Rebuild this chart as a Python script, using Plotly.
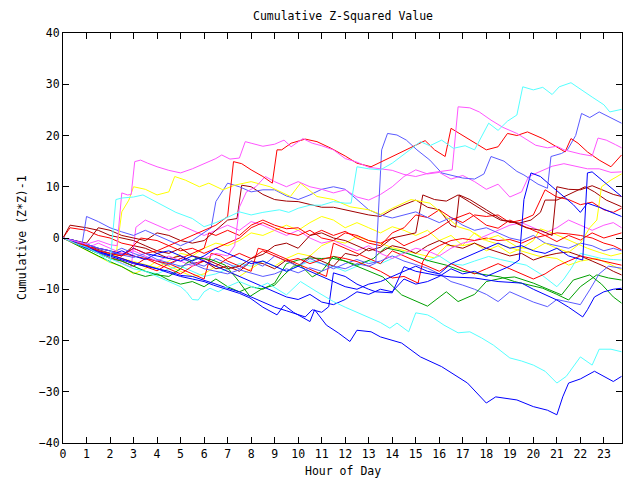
import plotly.graph_objects as go

# ---- data: (hour, cumulative (Z*Z)-1) ----
hour_ticks = list(range(24))

cyan_top = [(0,0),(0.5,-1),(1,-1.8),(1.5,-3),(2,-4.8),(2.25,7.5),(2.5,7.8),(3,8),(3.4,8.4),(4,7),(4.5,5.8),(4.8,5),(5.5,3.8),(6,2.2),(6.5,3),(7,4),(7.5,5.1),(8,4.5),(8.5,5),(9.2,5.5),(9.6,5),(10,5.8),(10.5,6.4),(11,6.4),(11.5,7.1),(12,6.8),(12.25,6.8),(12.5,13.9),(13,13.5),(13.5,13.3),(14,14.6),(14.75,17.2),(15.2,18.8),(15.6,18),(16.1,19.1),(16.6,17.5),(17.1,18),(17.5,17.2),(18.1,22.4),(18.5,21),(18.9,22.8),(19.3,24),(19.55,29.5),(20,28.9),(20.4,29.4),(20.8,28),(21.1,29.5),(21.6,30.3),(22,29),(22.5,27.5),(23,26),(23.25,24.6),(23.75,25.1)]
magenta_top = [(0,0),(0.5,-0.6),(1,-1.2),(1.5,-0.5),(2,-1.3),(2.3,-1.5),(2.5,8.8),(2.75,8.4),(2.9,8.5),(3.05,14.9),(3.3,15.2),(3.6,14.6),(4,13.9),(4.5,13.2),(5,12.7),(5.5,13.5),(6,14.5),(6.5,15.5),(6.75,16.2),(7.1,15.4),(7.5,15.6),(7.75,18.8),(8,18.5),(8.5,17.9),(9,18.3),(9.4,19.1),(9.7,17.8),(10.2,19.4),(10.6,18.5),(11,18),(11.5,17.2),(12,15.5),(12.5,14.8),(13,13.8),(13.5,13.5),(14,13.2),(14.5,12.4),(15,12),(15.6,12.7),(16.2,13),(16.55,13.3),(16.8,25.6),(17.3,25.4),(17.7,24.6),(18.2,23),(18.7,21.6),(19.3,20.4),(20.1,18.1),(20.6,17.6),(21.0,17.9),(21.3,17.2),(22,16.4),(22.5,16),(22.75,19.5),(23.1,19.1),(23.5,18.2),(23.75,17.6)]
red_top = [(0,0),(0.5,-1),(1,-1.5),(1.5,-2.5),(2,-3),(2.5,-3.5),(3,-2),(3.5,-3),(4,-2.5),(4.5,-1.5),(5,-0.5),(5.5,0.5),(6,1.5),(6.5,2.5),(7,4.2),(7.25,14.9),(7.6,14.5),(8,13.3),(8.5,12),(8.9,10.7),(9.1,17.2),(9.3,17.2),(9.7,18.5),(10.3,19.3),(10.8,18.8),(11.4,17.5),(12,16),(12.5,14.6),(13.1,13.9),(13.6,15),(14,15.9),(14.6,17.2),(15,18),(15.4,19),(15.8,17.2),(16.25,15.9),(16.5,21.4),(17,20),(17.5,18.5),(18,17.2),(18.5,17.8),(18.9,20.4),(19.3,20),(19.75,20.7),(20.4,19.4),(20.7,18.6),(21.1,17.5),(21.35,16.8),(21.6,19.4),(21.9,18.5),(22.3,16.8),(22.8,15.2),(23.3,13.9),(23.75,16.2)]
lblue_top = [(0,0),(0.5,-0.5),(1,-1.2),(1.5,-2),(2,-2.5),(2.5,-3.3),(3,-3.8),(3.5,-3),(4,-4.2),(4.5,-4.8),(5,-5.5),(5.5,-5),(6,-6),(6.5,-6.5),(7,-7),(7.5,-6.2),(8,-6.8),(8.5,-7.5),(9,-7),(9.5,-6),(10,-6.8),(10.5,-5.8),(11,-6.5),(11.5,-5.5),(12,-6),(12.5,-5),(13,-5.5),(13.3,-4.9),(13.55,17.2),(13.8,20.4),(14.2,20.1),(14.6,19.1),(15.05,17.2),(15.6,15.2),(16.1,12.7),(16.6,12.2),(17,11.7),(17.5,11.5),(17.9,12.5),(18.2,15.9),(18.75,15),(19.3,13),(19.6,12.3),(20.2,10.5),(20.6,9.7),(20.75,15.9),(21.2,16.5),(21.45,17.2),(21.8,20),(22.05,24.3),(22.4,23.5),(22.8,24.6),(23.3,23.4),(23.75,22.4)]
cyan_low = [(0,0),(0.5,-1),(1,-2),(1.5,-3),(2,-4),(2.5,-5),(3,-6),(3.5,-6.5),(4,-7.5),(4.5,-8.5),(5,-9.5),(5.25,-10.5),(5.5,-12),(5.75,-12.1),(6,-10.5),(6.25,-9.8),(6.6,-10.5),(7,-9.5),(7.5,-8.5),(8.2,-9.8),(8.7,-8.8),(9.5,-11.1),(10.1,-8.5),(10.8,-10.5),(11.5,-12.4),(12,-13.5),(12.5,-14.5),(13,-15.4),(13.5,-16.5),(13.9,-17.6),(14.2,-16.6),(14.7,-18.3),(15.0,-14.6),(15.5,-15),(15.75,-15.6),(16.2,-17),(16.8,-18.5),(17.3,-18.3),(17.8,-19.5),(18.3,-20.9),(19.0,-23.4),(19.5,-24),(20,-24.8),(20.5,-26),(21.0,-28.3),(21.4,-27),(22.0,-23.2),(22.5,-24.8),(22.8,-21.7),(23.3,-21.7),(23.75,-22.2)]
blue_low = [(0,0),(0.5,-1),(1,-2),(1.5,-2.8),(2,-3.5),(2.5,-4.2),(3,-5),(3.5,-5.5),(4,-6),(4.5,-6.8),(5,-7.5),(5.5,-8),(6,-8.5),(6.4,-9.2),(7,-10),(7.5,-10.8),(7.95,-11.7),(8.5,-13.5),(9.1,-15),(9.4,-13.1),(9.8,-14.5),(10.5,-16.3),(10.7,-14),(11.2,-17),(11.7,-18.5),(12.2,-20.2),(12.5,-18),(13.1,-18.3),(13.5,-19.3),(14.4,-20.5),(15.2,-23.2),(16.1,-25.1),(17.2,-28.3),(18.0,-32.2),(18.4,-31),(19.3,-31.6),(20.0,-32.9),(20.6,-33.6),(21.0,-34.5),(21.25,-31),(21.5,-28.3),(22.0,-27.5),(22.6,-26),(23.0,-27),(23.4,-28),(23.75,-27)]
blue_b2 = [(0,0),(0.5,-0.8),(1,-1.8),(1.5,-2.6),(2,-3.3),(2.5,-4),(3,-4.8),(3.5,-5.3),(4,-6),(4.5,-6.5),(5,-7.3),(5.5,-7.5),(6,-8.2),(6.5,-9),(7,-9.8),(7.5,-10.5),(8,-11.5),(8.5,-12.5),(9,-13.5),(9.5,-14.2),(10,-15),(10.3,-15.4),(10.6,-14),(11,-14.5),(11.3,-13.4),(11.5,-6.8),(12,-7.5),(12.5,-9),(13,-10),(13.3,-10.5),(14,-10.7),(14.5,-5.6),(15,-6.5),(15.8,-7.2),(16.5,-7.6),(17.5,-7.8),(18.5,-8.5),(19.5,-8.8),(20,-10),(21,-12.1),(21.5,-13.5),(22.1,-15.4),(22.3,-14),(22.6,-11.5),(23,-10.5),(23.4,-10),(23.75,-9.8)]
blue_b3 = [(0,0),(0.5,-0.5),(1,-1.2),(1.5,-2),(2,-2.5),(2.5,-3.3),(3,-2),(3.5,-3),(4,-3.5),(4.5,-4),(5,-4.5),(5.5,-3.5),(6,-4.5),(6.5,-5.5),(7,-6.5),(7.5,-7.5),(8,-8.5),(8.5,-9.5),(9,-10.5),(9.5,-11.5),(10,-12),(10.5,-11),(11,-12.5),(11.5,-13),(12,-12),(12.5,-10.5),(13,-11),(13.5,-10),(14,-10.5),(14.5,-8),(15,-9),(15.5,-8.5),(16,-7.5),(16.5,-6),(17,-7),(17.5,-6.5),(18,-7.5),(18.5,-6.5),(19,-5.5),(19.4,-4.3),(19.6,7.5),(19.9,12.7),(20.3,12),(20.8,10),(21.3,8),(21.7,6.5),(22.0,5),(22.3,6.8),(22.8,6),(23.3,5),(23.75,4.2)]
blue_b4 = [(0,0),(0.5,-1),(1,-1.8),(1.5,-2.6),(2,-3.4),(2.5,-2.5),(3,-3.5),(3.5,-4.2),(4,-3),(4.5,-2.5),(5,-3.5),(5.5,-4.5),(6,-3.5),(6.5,-2),(7,-3),(7.5,-4),(8,-5),(8.5,-4.5),(9,-5.5),(9.5,-6.5),(10,-5.5),(10.5,-6.5),(11,-7.5),(11.5,-8.5),(12,-9.5),(12.5,-10),(13,-9),(13.5,-8.5),(14,-7.5),(14.5,-6.5),(15,-5.5),(15.5,-6.5),(16,-7),(16.5,-5),(17,-4),(17.5,-3),(18,-2),(18.5,-1),(19,-2),(19.5,-1.5),(20,-2.5),(20.5,-3),(21,-2),(21.5,-3.5),(22.1,-4.3),(22.3,12.7),(22.5,12.9),(23,11),(23.4,9.5),(23.75,8.1)]
green_g1 = [(0,0),(0.5,-1),(1,-2),(1.5,-3),(2,-4),(2.5,-4.5),(3,-5.5),(3.5,-6.5),(4,-7.2),(4.5,-7.5),(5,-6),(5.25,-4.9),(5.7,-3.9),(6.3,-4.2),(6.9,-5.3),(7.4,-8),(7.95,-11.4),(8.5,-9.8),(9,-9.2),(9.4,-7.2),(9.8,-5.5),(10.1,-5.3),(10.6,-7.6),(11,-6.5),(11.5,-3.6),(12.2,-4.9),(12.8,-6),(13.6,-7.6),(14.4,-11.1),(15.5,-13.3),(16.3,-10.5),(16.8,-12.4),(17.5,-11),(18,-8.5),(18.7,-7.8),(19.2,-7.6),(20,-8.8),(20.6,-10),(21.2,-11.1),(21.7,-8.2),(22.4,-7.2),(22.9,-9),(23.4,-11.5),(23.75,-12.7)]
green_g2 = [(0,0),(0.5,-1.2),(1,-2.3),(1.5,-3.5),(2,-4.6),(2.5,-5.6),(3,-6.8),(3.5,-7.5),(4,-7),(4.5,-8.2),(5,-9),(5.5,-8.5),(6,-9.5),(6.5,-8),(7,-9.5),(7.5,-10.5),(8,-9.5),(8.5,-10),(9,-8.8),(9.5,-5),(10,-4.3),(10.5,-3.9),(11,-4),(11.4,-3.9),(12,-4.5),(12.5,-5.3),(13.2,-4),(13.7,-1.9),(14.3,-2.5),(15,-3.5),(15.6,-4.5),(16.3,-5.3),(17,-6.5),(17.7,-7),(18.6,-7.6),(19.2,-8.5),(20.4,-9.8),(21,-11),(21.5,-12.1),(22,-9.5),(22.7,-7.2),(23.2,-7.8),(23.75,-8.2)]
yellow_y1 = [(0,0),(0.5,-1),(1,-1.8),(1.5,-2.5),(2,-3.2),(2.25,-3.5),(2.5,5.1),(2.8,7.4),(3,10),(3.5,9.5),(4,8.4),(4.5,9),(4.75,12),(5.2,11.3),(5.8,10),(6.2,10.7),(6.8,9.4),(7.3,10.3),(8,11),(8.8,10),(9.67,8.1),(10.1,10.7),(10.8,8.1),(11.5,7.5),(12.2,6.1),(13,5.5),(13.5,4.6),(14,5.8),(14.8,7.5),(15.6,6.8),(16.2,4.5),(16.8,2.2),(17.3,1.5),(17.9,-0.4),(18.5,0.5),(19.3,-1.7),(20,-2.3),(20.5,-1),(21,-2),(21.5,-2.8),(22,-1),(22.4,2),(22.7,3.5),(22.9,10),(23.3,11.3),(23.75,12.5)]
yellow_y2 = [(0,0),(0.5,-1.2),(1,-2.4),(1.5,-3.6),(2,-4.8),(2.5,-5.5),(3,-7),(3.5,-6),(4,-4.5),(4.5,-5.5),(5,-6.5),(5.5,-7.5),(6,-7),(6.5,-5.5),(7,-6.5),(7.5,-7.5),(8,-6),(8.5,-4.5),(9,-5.5),(9.5,-4),(10,-3),(10.5,-3.5),(11,-1.5),(11.5,-0.5),(12,-1),(12.5,0.3),(13,-0.5),(13.5,-1),(14,-1.9),(14.5,-2.5),(15,-3),(15.8,-3.9),(16.3,-1.5),(17,-1.4),(17.5,1),(18,-0.5),(18.7,-1.5),(19.5,-2.5),(20.2,-3.5),(21,-4),(21.5,-5.3),(22,-4.5),(22.7,-4),(23.2,-5),(23.75,-6.2)]
yellow_y3 = [(0,0),(0.5,-0.8),(1,-1.6),(1.5,-2.4),(2,-3.2),(2.5,-4),(3,-4.6),(3.5,-5.2),(4,-5.8),(4.5,-4.5),(5,-3),(5.5,-3.5),(6,-2),(6.5,-1),(7,-1.5),(7.5,-0.5),(8,1),(8.5,0.5),(9,1.5),(9.5,2.5),(10,1.5),(10.5,3),(11,4.2),(11.5,3.5),(12,2),(12.5,3),(13,2),(13.5,1),(14,2.2),(14.5,1.5),(15,0.5),(15.5,1.5),(16,-0.5),(16.5,0.5),(17,-1.5),(17.5,-1),(18,-2.5),(18.5,-1.5),(19,-3),(19.5,-2),(20,-0.5),(20.3,1.8),(20.8,1),(21.3,0),(21.8,-1),(22.3,-2),(22.8,-2.8),(23.3,-3.5),(23.75,-3)]
dred_d1 = [(0,0),(0.5,-0.5),(1,-1),(1.5,2),(2,1.5),(2.5,0.5),(3,0),(3.5,-0.5),(4,1),(4.5,0.5),(5,-0.5),(5.5,-1),(6,-0.5),(6.5,1.5),(7,3.5),(7.4,3.8),(7.6,10.3),(8,10),(8.5,8.5),(9,7.5),(9.5,7.2),(10,7.1),(10.5,6.5),(11,6),(11.5,6),(12,5.5),(12.5,5),(13,4.5),(13.5,4.2),(14,5.5),(14.5,6.5),(15,7.4),(15.5,6),(16,5.5),(16.5,2.5),(16.7,2.1),(16.85,8.4),(17.3,7.5),(18,5.5),(18.7,3.5),(19.4,2.9),(19.9,3.5),(20.3,5),(20.5,7.4),(21,7.4),(21.5,8.5),(22.2,10),(22.6,9),(23.1,7.4),(23.75,6.1)]
dred_d2 = [(0,0),(0.3,2.5),(1,2),(1.5,1.5),(2,0.5),(2.5,0),(3,-0.5),(3.5,-1.5),(4,-2.5),(4.5,-3),(5,-2),(5.5,-3.5),(6,-4),(6.5,-5),(7,-6),(7.5,-5.5),(8,-4),(8.5,-3.2),(9,-1.5),(9.5,-1),(10,-2),(10.5,0.5),(11,1),(11.5,0),(12,-0.5),(12.5,-1.5),(13,-2.5),(13.5,-1.8),(14,0),(14.5,0.5),(15,1),(15.3,8.4),(15.8,7.5),(16.3,7.2),(16.8,8.4),(17.3,7),(18,5),(18.6,3.5),(19.2,3),(19.7,2),(20.3,1.5),(20.8,0.5),(21,10),(21.5,9.5),(22,9.4),(22.5,10.2),(23,9.2),(23.4,8.5),(23.75,8.1)]
dred_d3 = [(0,0),(0.5,-1),(1,-1.5),(1.5,-2.3),(2,-3),(2.5,-3.5),(3,-1.5),(3.5,-2),(4,-3),(4.5,-4),(5,-3.5),(5.5,-5),(6,-4.5),(6.5,-6),(7,-5.5),(7.5,-6.5),(8,-4.5),(8.5,-5),(9,-6),(9.5,-4.3),(10,-5.5),(10.5,-3.5),(11,-4.5),(11.5,-5.5),(12,-3),(12.5,-3.5),(13,-2),(13.5,-2.8),(14,-1.5),(14.5,-2),(15,-3),(15.5,-1.5),(16,-0.5),(16.5,-1.5),(17,-2),(17.5,-1),(18,-2),(18.5,-2.7),(19,-3.5),(19.5,-3),(20,-4.3),(20.5,-3.5),(21,-3),(21.5,-2.7),(22,-3.5),(22.5,-4.5),(23,-5.5),(23.4,-6.5),(23.75,-7.2)]
red_r2 = [(0,0),(0.3,2),(1,1.5),(1.5,0.5),(2,0),(2.5,-1),(3,-1.5),(3.3,0),(4,-0.5),(4.5,-1.5),(5,-2.5),(5.5,-2),(6,-3),(6.5,-2),(7,-1),(7.5,0),(8,2),(8.5,3),(9,2),(9.5,1),(10,0.5),(10.5,1.5),(11,0),(11.5,-0.5),(12,1),(12.5,0.5),(13,-0.5),(13.5,-1),(14,0),(14.5,-1.5),(15,-0.5),(15.5,0.5),(16,2),(16.5,3.5),(17.3,4.9),(17.7,3.5),(18,2.5),(18.5,1.9),(19,3.5),(19.5,2.5),(20,1.5),(20.5,0.5),(21,-0.7),(21.5,0.5),(22,-0.4),(22.5,1),(23,0),(23.4,0.5),(23.75,1)]
red_r3 = [(0,0),(0.5,-1),(1,-2),(1.5,-3),(2,-3.8),(2.5,-4.5),(3,-5.5),(3.5,-4),(4,-5),(4.5,-6),(5,-7),(5.5,-5.5),(6,-4.5),(6.5,-5.5),(7,-4),(7.5,-3),(8,-4),(8.5,-2.5),(9,-3.5),(9.5,-4.5),(10,-4),(10.5,-5),(11,-4.2),(11.5,-3.6),(12,-4),(12.5,-4.6),(13,-5.5),(13.5,-6.5),(14,-7.8),(14.5,-7.5),(15.1,-8.8),(15.3,-4.6),(15.6,-2.5),(16,-1.5),(16.5,-0.5),(17,-0.1),(17.5,-0.5),(18,0),(18.5,-0.5),(19,-0.3),(19.5,-1),(20,0),(20.5,0.5),(21,1),(21.5,0.8),(22,0.5),(22.5,0),(23,-1),(23.4,-1.5),(23.75,-2.3)]
red_r4 = [(0,0),(0.5,-0.5),(1,-1.5),(1.5,-2),(2,-2.5),(2.5,-3),(3,-3.5),(3.5,-4),(4,-4.5),(4.5,-5),(5,-4),(5.5,-3),(6,-2),(6.2,1),(6.5,0.5),(7,1.5),(7.5,0.5),(8,2.5),(8.5,3.5),(9,2.5),(9.5,1.8),(10,2),(10.5,0.5),(11,1.5),(11.5,0.5),(12,1.3),(12.5,0),(13,-1),(13.5,-1.5),(14,1),(14.5,2),(15,4.5),(15.5,4),(16,5.5),(16.5,4),(17,3),(17.5,4.5),(18,4.2),(18.5,4.5),(19,3),(19.5,3.5),(20,4.5),(20.5,9.4),(21,8),(21.5,7.5),(22,6.5),(22.5,7),(23,5.5),(23.4,5),(23.75,5.8)]
red_r5 = [(0,0),(0.5,-0.8),(1,-1.6),(1.5,-2.4),(2,-3.2),(2.5,-4),(3,-4.8),(3.5,-5.6),(4,-6.4),(4.5,-5),(5,-6),(5.5,-7),(6,-8),(6.3,-3),(6.7,-3.5),(7,-4.5),(7.5,-5.5),(8,-6.5),(8.3,-2),(8.7,-2.5),(9.2,-3.5),(9.7,-4.5),(10.2,-5.5),(10.7,-6.5),(11.2,-7.5),(11.5,-1),(12,-2),(12.5,-3),(13,-4),(13.5,-5),(14,-2.5),(14.5,-3.5),(15,-4.5),(15.5,-5.5),(16,-6.5),(16.5,-5),(17,-6),(17.5,-7),(18,-6),(18.5,-5),(19,-6),(19.5,-7),(20,-8),(20.5,-7),(21,-5.5),(21.5,-4.5),(22,-3.5),(22.5,-4),(23,-4.5),(23.4,-5),(23.75,-5.3)]
lblue_l2 = [(0,0),(0.5,-0.8),(0.8,-1.5),(1.0,4.2),(1.5,3.2),(2,2),(2.5,1.2),(3,0.5),(3.5,1.5),(4,0.5),(4.5,-0.5),(5,-1.5),(5.5,-0.5),(6,1),(6.3,2),(6.5,7.1),(7,10.7),(7.5,10),(8,9),(8.5,9.4),(9,9.4),(9.5,8.2),(10,7.5),(10.5,8.4),(11,9.5),(11.5,10),(12,9.5),(12.5,7.5),(13,5.5),(13.5,4.5),(14,3.9),(14.5,4.5),(15,5.1),(15.5,4),(16,3),(16.5,4),(17,2.5),(17.5,1.5),(18,2),(18.5,1),(19,0),(19.5,-0.5),(20,0.5),(20.5,-1),(21,-1.5),(21.5,-2),(22,-1),(22.5,-1.5),(23,-2.5),(23.4,-2),(23.75,-2.5)]
lblue_l3 = [(0,0),(0.5,-0.8),(1,-1.6),(1.5,-2.4),(2,-3),(2.5,-2),(3,-3),(3.5,-3.8),(4,-4.5),(4.5,-5.3),(5,-4),(5.5,-4.8),(6,-5.5),(6.5,-4),(7,-5),(7.5,-6),(8,-4.5),(8.5,-5.5),(9,-3.5),(9.5,-4.5),(10,-5.5),(10.5,-4),(11,-5),(11.5,-6),(12,-5),(12.5,-4.2),(13,-5),(13.5,-4.5),(14,-3.5),(14.5,-4.5),(15,-5.2),(15.5,-5.9),(16,-7),(16.5,-8.5),(17,-9.2),(17.5,-10),(18,-11),(18.5,-12.4),(19,-10.5),(19.5,-11.5),(20,-12.5),(20.6,-13.4),(21,-12),(21.5,-12.5),(22,-13),(22.4,-10.1),(22.8,-7),(23.2,-5.5),(23.75,-5.9)]
magenta_m2 = [(0,0),(0.5,-1),(1,-2),(1.5,-1),(2,-2),(2.5,-3),(3,-2.5),(3.5,-3.5),(4,-4.5),(4.5,-3.5),(5,-4.5),(5.5,-5.5),(6,-4),(6.5,-3),(7,-3.5),(7.3,-1.5),(7.5,6),(7.8,9),(8.2,10),(8.6,12),(9,11),(9.5,10),(10,11),(10.5,10),(11,9.5),(11.5,8.8),(12,9.4),(12.5,8),(13,7.4),(13.5,8.5),(14,10),(14.5,12),(15,13.3),(15.5,12.5),(16,12.8),(16.5,11.5),(17,12.2),(17.5,11),(18,9.5),(18.5,10.5),(19,8),(19.5,9),(19.8,12),(20.3,13),(20.8,14),(21.3,14.5),(21.8,14),(22.3,13.5),(22.8,13.5),(23.3,12.8),(23.75,12.9)]
magenta_m3 = [(0,0),(0.5,-1),(1,-2),(1.5,-3),(2,-4),(2.5,-5),(2.9,-5.7),(3.1,2.1),(3.5,3.5),(4,2.5),(4.5,1.5),(5,2.5),(5.5,1.5),(6,0.5),(6.5,1.5),(7,2.5),(7.5,1.5),(8,3.2),(8.5,2.5),(9,1.5),(9.5,0.5),(10,1.5),(10.5,0),(11,-1),(11.5,-0.5),(12,-1.5),(12.5,-2.5),(13,-1.5),(13.5,-3),(14,-4),(14.5,-3),(15,-2),(15.5,-2.5),(16,-3.5),(16.5,-2),(17,-1),(17.5,-0.5),(18,0.5),(18.5,1.5),(19,2.5),(19.5,3),(20,2),(20.5,1),(21,2),(21.5,3.5),(22,2.5),(22.5,1.5),(23,2.5),(23.4,3),(23.75,2)]
cyan_c3 = [(0,0),(0.5,-1),(1,-2),(1.5,-3),(2,-3.5),(2.5,-4.5),(3,-5.5),(3.5,-6.5),(4,-7),(4.5,-6),(5,-5.5),(5.5,-6.5),(6,-7.5),(6.5,-7),(7,-6),(7.5,-5),(8,-5.5),(8.5,-4.5),(9,-5.5),(9.5,-6.5),(10,-5.5),(10.5,-4.5),(11,-5),(11.5,-5.6),(12,-6.5),(12.5,-5.5),(13,-4.5),(13.5,-5),(14,-4),(14.5,-2.7),(15,-3.5),(15.5,-4.5),(16,-3.5),(16.5,-5),(17,-5.3),(17.5,-4.5),(18.1,-3.6),(18.6,-4.2),(19.2,-4.8),(19.7,-5.3),(20.3,-7),(21,-9.5),(21.3,-8),(21.6,-6),(22,-3),(22.5,-3.5),(22.9,-4),(23.4,-4.2),(23.75,-4.3)]

RED, GREEN, BLUE, MAGENTA = "#ff0000", "#00a000", "#0000ff", "#ff55ff"
CYAN, DRED, YELLOW, LBLUE = "#55ffff", "#a00000", "#ffff00", "#5a5aff"

series = [
    (yellow_y3, YELLOW), (yellow_y2, YELLOW), (cyan_c3, CYAN), (green_g2, GREEN),
    (dred_d3, DRED), (red_r5, RED), (lblue_l3, LBLUE), (magenta_m3, MAGENTA),
    (red_r2, RED), (red_r3, RED), (red_r4, RED), (dred_d2, DRED), (dred_d1, DRED),
    (lblue_l2, LBLUE), (yellow_y1, YELLOW), (magenta_m2, MAGENTA), (green_g1, GREEN),
    (blue_b4, BLUE), (blue_b3, BLUE), (blue_b2, BLUE), (cyan_low, CYAN), (blue_low, BLUE),
    (lblue_top, LBLUE), (red_top, RED), (magenta_top, MAGENTA), (cyan_top, CYAN),
]

MONO = "DejaVu Sans Mono"
fig = go.Figure()
for pts, col in series:
    fig.add_trace(go.Scatter(
        x=[p[0] for p in pts], y=[p[1] for p in pts], mode="lines",
        line=dict(color=col, width=1), showlegend=False, hoverinfo="skip"))

axis_common = dict(showline=True, linecolor="black", linewidth=1, mirror="ticks",
                   ticks="inside", ticklen=6, tickcolor="black", showgrid=False,
                   zeroline=False, tickfont=dict(family=MONO, size=11.5, color="black"))
fig.update_xaxes(range=[0, 23.77], tickvals=hour_ticks, **axis_common)
fig.update_yaxes(range=[-40, 40], tickvals=list(range(-40, 41, 10)), **axis_common)

fig.update_layout(
    width=640, height=480, margin=dict(l=63, r=18, t=33, b=37),
    paper_bgcolor="white", plot_bgcolor="white",
    annotations=[
        dict(text="Cumulative Z-Squared Value", xref="paper", yref="paper", x=0.5, y=1 + 17/410,
             showarrow=False, font=dict(family=MONO, size=11.5, color="black"), yanchor="middle"),
        dict(text="Hour of Day", xref="paper", yref="paper", x=0.5, y=-28/410,
             showarrow=False, font=dict(family=MONO, size=11.5, color="black"), yanchor="middle"),
        dict(text="Cumulative (Z*Z)-1", xref="paper", yref="paper", x=-41/559, y=0.5,
             textangle=-90, showarrow=False, font=dict(family=MONO, size=11.5, color="black"),
             xanchor="center", yanchor="middle"),
    ],
)
fig.write_html("out.html")
